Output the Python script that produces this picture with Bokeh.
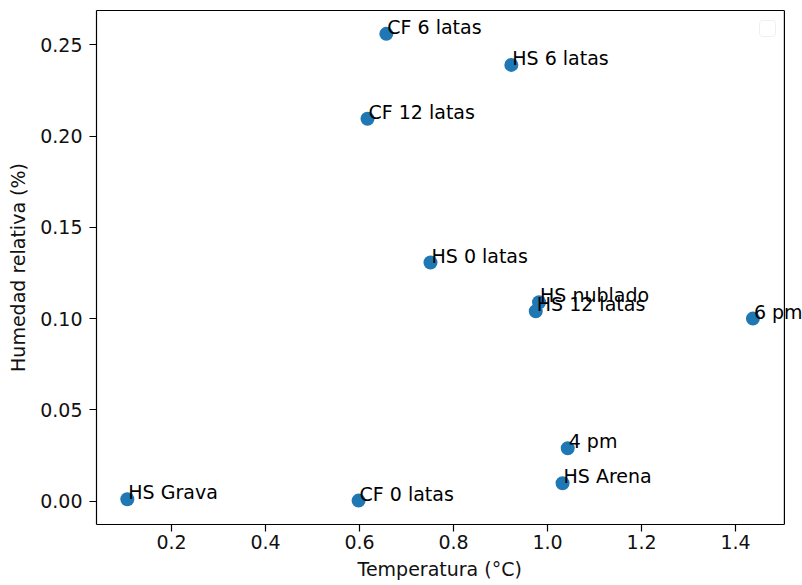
from bokeh.plotting import figure
from bokeh.models import (ColumnDataSource, Range1d, FixedTicker, NumeralTickFormatter,
                          BoxAnnotation, Label, LinearAxis, Span, Title)
from bokeh.embed import file_html
from bokeh.resources import INLINE

labels = ["CF 6 latas", "HS 6 latas", "CF 12 latas", "HS 0 latas", "HS nublado",
          "HS 12 latas", "6 pm", "4 pm", "HS Arena", "HS Grava", "CF 0 latas"]
temperatura = [0.657, 0.923, 0.617, 0.751, 0.982, 0.975, 1.437, 1.043, 1.032, 0.106, 0.598]
humedad = [0.256, 0.239, 0.2095, 0.1307, 0.109, 0.104, 0.100, 0.029, 0.0098, 0.001, 0.0003]

x_ticks = [0.2, 0.4, 0.6, 0.8, 1.0, 1.2, 1.4]
y_ticks = [0.00, 0.05, 0.10, 0.15, 0.20, 0.25]

# axis limits (x: the axes box ends at x_max; the canvas continues a little further
# so that annotation text can run past the right spine, as in the original)
x_min, x_max, x_canvas_end = 0.0404, 1.504, 1.5425
y_min, y_max = -0.0128, 0.2688

FONT = "DejaVu Sans"
FS = "19px"

src = ColumnDataSource(dict(x=temperatura, y=humedad, label=labels))

p = figure(width=802, height=585, output_backend="svg", toolbar_location=None,
           x_range=Range1d(x_min, x_canvas_end), y_range=Range1d(y_min, y_max),
           min_border_left=96, min_border_right=0, min_border_top=10, min_border_bottom=61)

p.background_fill_color = "white"
p.border_fill_color = "white"
p.grid.visible = False
p.outline_line_color = None

for ax, ticks, fmt in ((p.xaxis[0], x_ticks, "0.0"), (p.yaxis[0], y_ticks, "0.00")):
    ax.ticker = FixedTicker(ticks=ticks)
    ax.formatter = NumeralTickFormatter(format=fmt)
    ax.minor_tick_line_color = None
    ax.major_tick_in = 0
    ax.major_tick_out = 7
    ax.major_tick_line_width = 1.2
    ax.axis_line_width = 1.2
    ax.axis_line_color = "black"
    ax.major_label_text_font = FONT
    ax.major_label_text_font_size = FS
    ax.major_label_text_color = "#111111"
    ax.axis_label_text_font = FONT
    ax.axis_label_text_font_size = FS
    ax.axis_label_text_font_style = "normal"
    ax.axis_label_text_color = "#111111"

p.xaxis.bounds = (x_min, x_max)
p.yaxis.major_label_standoff = 7
p.xaxis.major_label_standoff = 3
p.yaxis.axis_label = "Humedad relativa (%)"
p.yaxis.axis_label_standoff = 8

# x axis label, placed under the middle of the axes box (not of the extended canvas)
p.add_layout(Title(text="Temperatura (°C)", align="left", offset=261, standoff=9,
                   text_font=FONT, text_font_size=FS, text_font_style="normal",
                   text_color="#111111"), "below")

# top spine
top = LinearAxis(ticker=FixedTicker(ticks=[]), bounds=(x_min, x_max),
                 axis_line_color="black", axis_line_width=1.2,
                 major_tick_in=0, major_tick_out=0, minor_tick_in=0, minor_tick_out=0,
                 major_tick_line_color=None, minor_tick_line_color=None,
                 major_label_standoff=0, major_label_text_font_size="0px")
p.add_layout(top, "above")

# right spine
p.add_layout(Span(location=x_max, dimension="height", line_color="black", line_width=1.2))

p.scatter("x", "y", source=src, size=14, color="#1f77b4", line_color=None)

for tx, hy, lab in zip(temperatura, humedad, labels):
    p.add_layout(Label(x=tx, y=hy, text=lab, text_font=FONT, text_font_size=FS,
                       text_align="left", text_baseline="alphabetic",
                       text_color="black", x_offset=1, y_offset=7))

# empty legend frame (matplotlib legend with no entries)
p.add_layout(BoxAnnotation(left=663, right=679, top=504, bottom=488,
                           left_units="screen", right_units="screen",
                           top_units="screen", bottom_units="screen",
                           fill_color="white", fill_alpha=1.0,
                           line_color="#cccccc", line_width=1, border_radius=3))

open("out.html", "w").write(file_html(p, INLINE))
